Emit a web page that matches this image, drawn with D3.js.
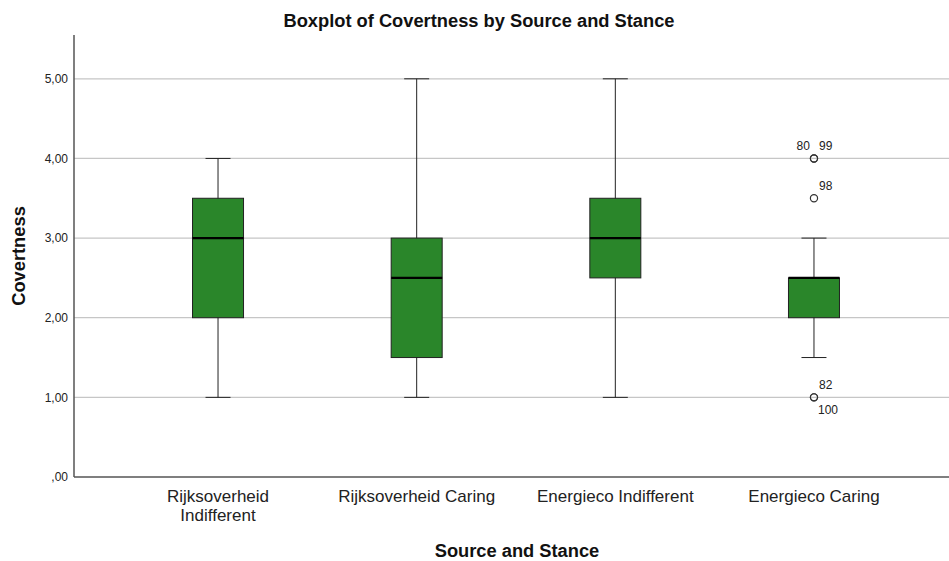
<!DOCTYPE html>
<html>
<head>
<meta charset="utf-8">
<script src="https://cdn.jsdelivr.net/npm/d3@7"></script>
<style>
  html, body { margin: 0; padding: 0; background: #fff; }
  svg { display: block; font-family: "Liberation Sans", Arial, sans-serif; }
</style>
</head>
<body>
<svg id="chart" width="949" height="561"></svg>
<script>
// Five-number summaries per group
const categories = ["Rijksoverheid Indifferent", "Rijksoverheid Caring", "Energieco Indifferent", "Energieco Caring"];
const categoryLines = [["Rijksoverheid", "Indifferent"], ["Rijksoverheid Caring"], ["Energieco Indifferent"], ["Energieco Caring"]];
const whiskerLow  = [1.0, 1.0, 1.0, 1.5];
const quartile1   = [2.0, 1.5, 2.5, 2.0];
const medians     = [3.0, 2.5, 3.0, 2.5];
const quartile3   = [3.5, 3.0, 3.5, 2.5];
const whiskerHigh = [4.0, 5.0, 5.0, 3.0];

// Outlying cases (group index, value, case labels)
const outlierGroup  = [3, 3, 3];
const outlierValue  = [4.0, 3.5, 1.0];
const outlierCases  = [["80", "99"], ["98"], ["82", "100"]];

const yTicks = [0, 1, 2, 3, 4, 5];
const yTickLabels = [",00", "1,00", "2,00", "3,00", "4,00", "5,00"];

const svg = d3.select("#chart");
const W = 949, H = 561;
const plotLeft = 74, plotBottom = 477, plotTop = 35, plotRight = 958;

const y = d3.scaleLinear().domain([0, 5.55]).range([plotBottom, plotTop]);
const x = d3.scaleBand().domain(categories).range([plotLeft, plotRight]).paddingOuter(0.225).paddingInner(0);
const cx = c => x(c) + x.bandwidth() / 2;
const boxW = 51, capW = 25;

// Gridlines
svg.append("g").selectAll("line").data(yTicks.filter(v => v > 0)).join("line")
  .attr("x1", plotLeft).attr("x2", W).attr("y1", d => y(d)).attr("y2", d => y(d))
  .attr("stroke", "#c6c6c6").attr("stroke-width", 1.2);

// Y axis tick labels
const yAxis = d3.axisLeft(y).tickValues(yTicks).tickSize(0).tickPadding(6)
  .tickFormat((d, i) => yTickLabels[i]);
const gy = svg.append("g").attr("transform", `translate(${plotLeft},0)`).call(yAxis);
gy.select(".domain").remove();
gy.selectAll("text").attr("font-size", 12).attr("fill", "#222")
  .attr("font-family", "'Liberation Sans', Arial, sans-serif");

// Axis lines
svg.append("line").attr("x1", plotLeft).attr("x2", plotLeft).attr("y1", plotTop).attr("y2", plotBottom)
  .attr("stroke", "#555").attr("stroke-width", 1.5);
svg.append("line").attr("x1", plotLeft).attr("x2", W).attr("y1", plotBottom).attr("y2", plotBottom)
  .attr("stroke", "#555").attr("stroke-width", 1.5);

// Boxes
const groups = svg.append("g").selectAll("g").data(categories).join("g");
groups.append("line")
  .attr("x1", cx).attr("x2", cx)
  .attr("y1", (d, i) => y(whiskerLow[i])).attr("y2", (d, i) => y(whiskerHigh[i]))
  .attr("stroke", "#222").attr("stroke-width", 1);
groups.append("line")
  .attr("x1", d => cx(d) - capW / 2).attr("x2", d => cx(d) + capW / 2)
  .attr("y1", (d, i) => y(whiskerHigh[i])).attr("y2", (d, i) => y(whiskerHigh[i]))
  .attr("stroke", "#222").attr("stroke-width", 1);
groups.append("line")
  .attr("x1", d => cx(d) - capW / 2).attr("x2", d => cx(d) + capW / 2)
  .attr("y1", (d, i) => y(whiskerLow[i])).attr("y2", (d, i) => y(whiskerLow[i]))
  .attr("stroke", "#222").attr("stroke-width", 1);
groups.append("rect")
  .attr("x", d => cx(d) - boxW / 2).attr("width", boxW)
  .attr("y", (d, i) => y(quartile3[i])).attr("height", (d, i) => y(quartile1[i]) - y(quartile3[i]))
  .attr("fill", "#2a862a").attr("stroke", "#222").attr("stroke-width", 1);
groups.append("line")
  .attr("x1", d => cx(d) - boxW / 2).attr("x2", d => cx(d) + boxW / 2)
  .attr("y1", (d, i) => y(medians[i])).attr("y2", (d, i) => y(medians[i]))
  .attr("stroke", "#000").attr("stroke-width", 2.2);

// Outliers with case labels
outlierValue.forEach((v, k) => {
  const px = cx(categories[outlierGroup[k]]), py = y(v);
  const labs = outlierCases[k];
  const n = labs.length;
  for (let j = 0; j < n; j++) {
    svg.append("circle").attr("cx", px).attr("cy", py).attr("r", 3.6)
      .attr("fill", "none").attr("stroke", "#333").attr("stroke-width", 1.2);
  }
  if (n === 1) {
    svg.append("text").attr("x", px + 5).attr("y", py - 8).attr("font-size", 12).attr("fill", "#222").text(labs[0]);
  } else if (v > 2) {
    svg.append("text").attr("x", px - 4).attr("y", py - 8).attr("text-anchor", "end").attr("font-size", 12).attr("fill", "#222").text(labs[0]);
    svg.append("text").attr("x", px + 5).attr("y", py - 8).attr("font-size", 12).attr("fill", "#222").text(labs[1]);
  } else {
    svg.append("text").attr("x", px + 5).attr("y", py - 8).attr("font-size", 12).attr("fill", "#222").text(labs[0]);
    svg.append("text").attr("x", px + 4).attr("y", py + 17).attr("font-size", 12).attr("fill", "#222").text(labs[1]);
  }
});

// Category labels
categories.forEach((c, i) => {
  const t = svg.append("text").attr("x", cx(c)).attr("y", 502).attr("text-anchor", "middle")
    .attr("font-size", 17).attr("fill", "#222");
  categoryLines[i].forEach((ln, j) => {
    t.append("tspan").attr("x", cx(c)).attr("dy", j === 0 ? 0 : 18.5).text(ln);
  });
});

// Titles
svg.append("text").attr("x", 479).attr("y", 27).attr("text-anchor", "middle")
  .attr("font-size", 18.3).attr("font-weight", "bold").attr("fill", "#111")
  .text("Boxplot of Covertness by Source and Stance");
svg.append("text").attr("x", 517).attr("y", 557).attr("text-anchor", "middle")
  .attr("font-size", 18.3).attr("font-weight", "bold").attr("fill", "#111")
  .text("Source and Stance");
svg.append("text").attr("transform", "translate(25,256) rotate(-90)").attr("text-anchor", "middle")
  .attr("font-size", 18.3).attr("font-weight", "bold").attr("fill", "#111")
  .text("Covertness");
</script>
</body>
</html>
